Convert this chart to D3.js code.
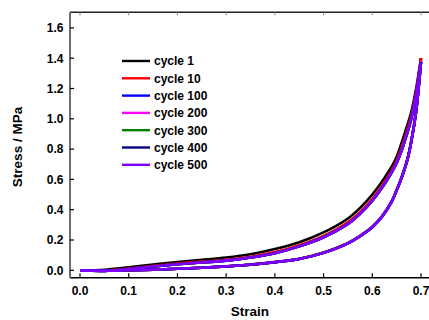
<!DOCTYPE html>
<html>
<head>
<meta charset="utf-8">
<script src="https://cdn.jsdelivr.net/npm/d3@7"></script>
<style>
    body { margin: 0; background: #fff; }
    text { font-family: "Liberation Sans", Arial, sans-serif; font-weight: bold; }
</style>
</head>
<body>
<div id="chart"></div>
<script>

// loading branch strains and unloading branch strains (both ascending)
var strainUp   = [0, 0.05, 0.1, 0.15, 0.2, 0.25, 0.3, 0.35, 0.4, 0.45, 0.5, 0.55, 0.575, 0.6, 0.625, 0.647, 0.66, 0.67, 0.68, 0.69, 0.7];
var strainDown = [0, 0.05, 0.1, 0.15, 0.2, 0.25, 0.3, 0.35, 0.4, 0.45, 0.5, 0.55, 0.575, 0.6, 0.62, 0.64, 0.65, 0.66, 0.672, 0.68, 0.69, 0.7];

var cycles = ["cycle 1", "cycle 10", "cycle 100", "cycle 200", "cycle 300", "cycle 400", "cycle 500"];
var colors = ["#000000", "#ff0000", "#0000ff", "#ff00ff", "#008000", "#000080", "#8000ff"];

var load1   = [0, 0.004, 0.02, 0.038, 0.055, 0.069, 0.084, 0.106, 0.14, 0.185, 0.25, 0.342, 0.412, 0.5, 0.61, 0.728, 0.84, 0.94, 1.045, 1.2, 1.40];
var load10  = [0, -0.002, 0.011, 0.029, 0.045, 0.057, 0.07, 0.09, 0.12, 0.166, 0.227, 0.318, 0.386, 0.472, 0.583, 0.705, 0.81, 0.91, 1.02, 1.18, 1.40];
var load100 = [0, -0.004, 0.008, 0.025, 0.04, 0.052, 0.064, 0.084, 0.113, 0.158, 0.218, 0.307, 0.374, 0.46, 0.57, 0.69, 0.79, 0.89, 1.0, 1.16, 1.38];
var load200 = [0, -0.004, 0.008, 0.025, 0.04, 0.052, 0.064, 0.084, 0.113, 0.158, 0.218, 0.307, 0.374, 0.46, 0.57, 0.69, 0.79, 0.89, 1.0, 1.16, 1.38];
var load300 = [0, -0.004, 0.008, 0.025, 0.04, 0.052, 0.064, 0.084, 0.113, 0.158, 0.218, 0.306, 0.373, 0.459, 0.569, 0.689, 0.789, 0.889, 0.999, 1.158, 1.375];
var load400 = [0, -0.004, 0.008, 0.025, 0.04, 0.052, 0.064, 0.084, 0.113, 0.158, 0.218, 0.306, 0.373, 0.459, 0.569, 0.689, 0.789, 0.889, 0.999, 1.158, 1.375];
var load500 = [0, -0.004, 0.008, 0.025, 0.04, 0.052, 0.064, 0.084, 0.113, 0.158, 0.218, 0.306, 0.373, 0.459, 0.569, 0.689, 0.789, 0.889, 0.999, 1.158, 1.37];

var unload1   = [0, -0.003, 0.0, 0.004, 0.01, 0.017, 0.026, 0.038, 0.054, 0.076, 0.117, 0.18, 0.228, 0.287, 0.357, 0.457, 0.53, 0.612, 0.732, 0.852, 1.052, 1.40];
var unload10  = [0, -0.003, 0.0, 0.004, 0.01, 0.017, 0.026, 0.038, 0.054, 0.075, 0.116, 0.179, 0.227, 0.286, 0.356, 0.456, 0.529, 0.611, 0.731, 0.851, 1.051, 1.40];
var unload100 = [0, -0.003, 0.0, 0.004, 0.01, 0.017, 0.026, 0.037, 0.053, 0.075, 0.115, 0.178, 0.226, 0.285, 0.355, 0.455, 0.528, 0.61, 0.73, 0.85, 1.05, 1.38];
var unload200 = [0, -0.003, 0.0, 0.004, 0.01, 0.017, 0.026, 0.037, 0.053, 0.075, 0.115, 0.178, 0.226, 0.285, 0.355, 0.455, 0.528, 0.61, 0.73, 0.85, 1.05, 1.38];
var unload300 = [0, -0.003, 0.0, 0.004, 0.01, 0.017, 0.026, 0.037, 0.053, 0.075, 0.115, 0.178, 0.225, 0.284, 0.354, 0.454, 0.527, 0.609, 0.729, 0.849, 1.049, 1.375];
var unload400 = [0, -0.003, 0.0, 0.004, 0.01, 0.017, 0.026, 0.037, 0.053, 0.075, 0.115, 0.178, 0.225, 0.284, 0.354, 0.454, 0.527, 0.609, 0.729, 0.849, 1.049, 1.375];
var unload500 = [0, -0.003, 0.0, 0.004, 0.01, 0.017, 0.026, 0.037, 0.053, 0.075, 0.115, 0.178, 0.225, 0.284, 0.354, 0.454, 0.527, 0.609, 0.729, 0.849, 1.049, 1.37];

var loads   = [load1, load10, load100, load200, load300, load400, load500];
var unloads = [unload1, unload10, unload100, unload200, unload300, unload400, unload500];

var xTicks = [0, 0.1, 0.2, 0.3, 0.4, 0.5, 0.6, 0.7];
var yTicks = [0, 0.2, 0.4, 0.6, 0.8, 1.0, 1.2, 1.4, 1.6];

var width = 429, height = 320;

var x = d3.scaleLinear().domain([0, 0.7]).range([80, 421]);
var y = d3.scaleLinear().domain([0, 1.6]).range([270.3, 27.9]);

var svg = d3.select("#chart").append("svg")
    .attr("width", width)
    .attr("height", height);

var xMin = x.invert(70), xMax = x.invert(432);
var yMin = y.invert(277.7), yMax = y.invert(12.3);

svg.append("clipPath").attr("id", "plot-clip")
    .append("rect")
    .attr("x", x(xMin)).attr("y", y(yMax))
    .attr("width", x(xMax) - x(xMin)).attr("height", y(yMin) - y(yMax));

/* curves */
var line = d3.line()
    .x(function(d){ return x(d[0]); })
    .y(function(d){ return y(d[1]); })
    .curve(d3.curveCatmullRom.alpha(0.5));

var plot = svg.append("g").attr("clip-path", "url(#plot-clip)");

cycles.forEach(function(c, i){
    var up = strainUp.map(function(s, j){ return [s, loads[i][j]]; });
    var down = strainDown.map(function(s, j){ return [s, unloads[i][j]]; });
    [up, down].forEach(function(pts){
        plot.append("path")
            .datum(pts)
            .attr("d", line)
            .attr("fill", "none")
            .attr("stroke", colors[i])
            .attr("stroke-width", 2.6)
            .attr("stroke-linejoin", "round");
    });
});

/* frame */
svg.append("line")
    .attr("x1", x(xMin)).attr("x2", x(xMax))
    .attr("y1", y(yMin)).attr("y2", y(yMin))
    .attr("stroke", "#000").attr("stroke-width", 1.6);
svg.append("line")
    .attr("x1", x(xMin)).attr("x2", x(xMax))
    .attr("y1", y(yMax)).attr("y2", y(yMax))
    .attr("stroke", "#222").attr("stroke-width", 1.4);
svg.append("line")
    .attr("x1", x(xMin)).attr("x2", x(xMin))
    .attr("y1", y(yMax)).attr("y2", y(yMin))
    .attr("stroke", "#6e6e6e").attr("stroke-width", 2);

/* x axis */
svg.selectAll(".xtick").data(xTicks).enter().append("line")
    .attr("class", "xtick")
    .attr("x1", function(d){ return x(d); }).attr("x2", function(d){ return x(d); })
    .attr("y1", y(yMin)).attr("y2", y(yMin) - 4.5)
    .attr("stroke", "#000").attr("stroke-width", 1.2);

svg.selectAll(".xtick-top").data(xTicks).enter().append("line")
    .attr("class", "xtick-top")
    .attr("x1", function(d){ return x(d); }).attr("x2", function(d){ return x(d); })
    .attr("y1", y(yMax)).attr("y2", y(yMax) + 3)
    .attr("stroke", "#888").attr("stroke-width", 1);

svg.selectAll(".xlabel").data(xTicks).enter().append("text")
    .attr("class", "xlabel")
    .attr("x", function(d){ return x(d); })
    .attr("y", 294.5)
    .attr("text-anchor", "middle")
    .attr("font-size", 12)
    .text(function(d){ return d3.format(".1f")(d); });

/* y axis */
svg.selectAll(".ytick").data(yTicks).enter().append("line")
    .attr("class", "ytick")
    .attr("x1", x(xMin)).attr("x2", x(xMin) + 4)
    .attr("y1", function(d){ return y(d); }).attr("y2", function(d){ return y(d); })
    .attr("stroke", "#000").attr("stroke-width", 1.2);

svg.selectAll(".ylabel").data(yTicks).enter().append("text")
    .attr("class", "ylabel")
    .attr("x", 63.5)
    .attr("y", function(d){ return y(d) + 4.3; })
    .attr("text-anchor", "end")
    .attr("font-size", 12)
    .text(function(d){ return d3.format(".1f")(d); });

/* axis titles */
svg.append("text")
    .attr("transform", "translate(22,147) rotate(-90)")
    .attr("text-anchor", "middle")
    .attr("font-size", 13.5)
    .text("Stress / MPa");

svg.append("text")
    .attr("x", 250)
    .attr("y", 316)
    .attr("text-anchor", "middle")
    .attr("font-size", 13.5)
    .text("Strain");

/* legend */
var legend = svg.selectAll(".legend").data(cycles).enter().append("g")
    .attr("class", "legend")
    .attr("transform", function(d, i){ return "translate(122," + (61 + i * 17.3) + ")"; });

legend.append("line")
    .attr("x1", 0).attr("x2", 28)
    .attr("y1", 0).attr("y2", 0)
    .attr("stroke", function(d, i){ return colors[i]; })
    .attr("stroke-width", 2.4);

legend.append("text")
    .attr("x", 32)
    .attr("y", 4.3)
    .attr("font-size", 12)
    .text(function(d){ return d; });

</script>
</body>
</html>
